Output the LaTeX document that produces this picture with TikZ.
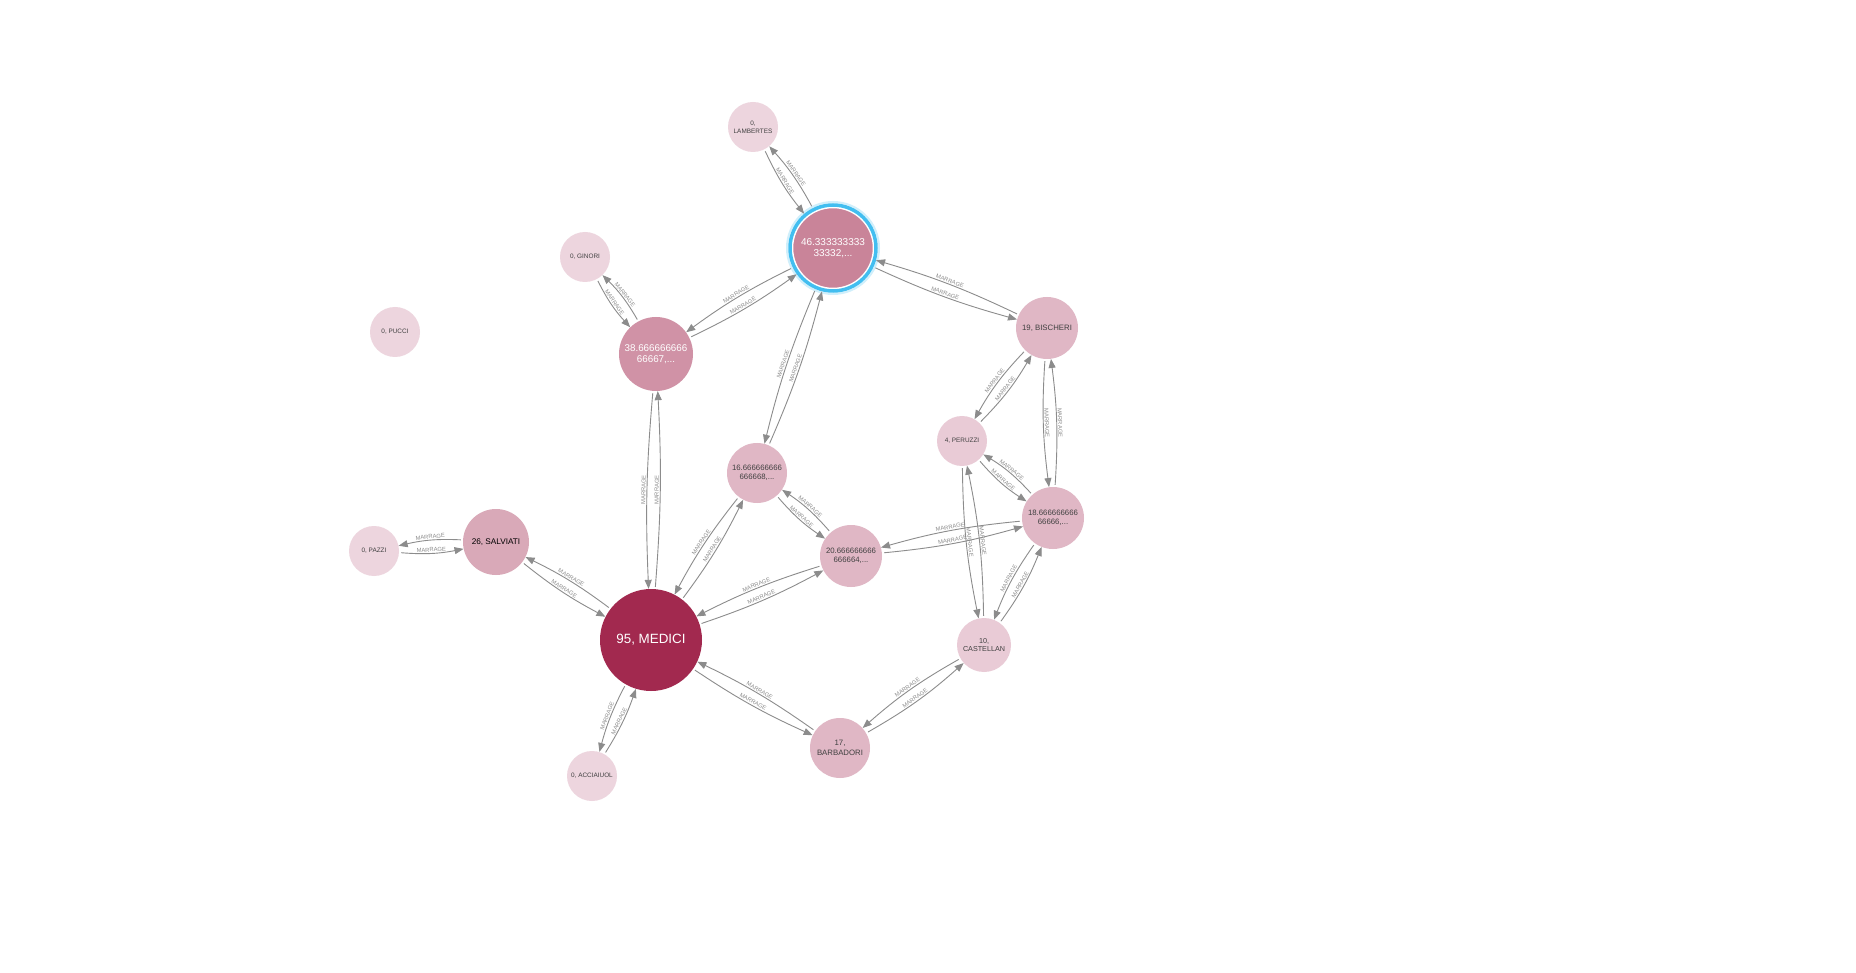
\documentclass[tikz,border=0pt]{standalone}
\usepackage{fontspec}
\setmainfont{Liberation Sans}
\usepackage{tikz}
\usetikzlibrary{arrows.meta,positioning}
\definecolor{medici}{RGB}{162,41,79}
\definecolor{guad}{RGB}{201,132,153}
\definecolor{albiz}{RGB}{208,146,166}
\definecolor{salv}{RGB}{217,169,184}
\definecolor{mid}{RGB}{224,183,197}
\definecolor{light}{RGB}{233,203,214}
\definecolor{pale}{RGB}{237,213,222}
\definecolor{ringblue}{RGB}{66,190,240}
\definecolor{edgegray}{RGB}{140,140,140}
\definecolor{ink}{RGB}{64,64,64}

\begin{document}
\begin{tikzpicture}[x=1pt,y=1pt,
            fam/.style={circle, inner sep=0pt, align=center, text=ink},
            tiny/.style={font=\fontsize{6.4}{8}\selectfont},
            small/.style={font=\fontsize{7.8}{9.3}\selectfont},
            rel/.style={draw=edgegray, line width=0.9pt, shorten <=2pt, -{Stealth[length=9pt,width=7pt,inset=0pt]}},
            lbl/.style={midway, sloped, above=0.6pt, inner sep=0.4pt, text=edgegray, font=\fontsize{5.8}{6}\selectfont}]
            \fill[white] (0,0) rectangle (1856,-973);
            \useasboundingbox (0,0) rectangle (1856,-973);

            \node[fam, tiny, fill=pale, minimum size=50] (lambertes) at (753,-127) {0,\\LAMBERTES};
            \node[fam, tiny, fill=pale, minimum size=50] (ginori) at (585,-257) {0, GINORI};
            \node[fam, tiny, fill=pale, minimum size=50] (pucci) at (395,-332) {0, PUCCI};
            \node[fam, tiny, fill=pale, minimum size=50] (pazzi) at (374,-551) {0, PAZZI};
            \node[fam, tiny, fill=pale, minimum size=50] (acciaiuol) at (592,-776) {0, ACCIAIUOL};
            \node[fam, tiny, fill=light, minimum size=50] (peruzzi) at (962,-441) {4, PERUZZI};
            \node[fam, font=\fontsize{7.2}{8.8}\selectfont, fill=light, minimum size=54] (castellan) at (984,-645) {10,\\CASTELLAN};
            \node[fam, small, fill=mid, minimum size=60] (barbadori) at (840,-748) {17,\\BARBADORI};
            \node[fam, small, fill=mid, minimum size=62] (bischeri) at (1047,-328) {19, BISCHERI};
            \node[fam, small, fill=mid, minimum size=60] (tornabuoni) at (757,-473) {16.666666666\\666668,...};
            \node[fam, small, fill=mid, minimum size=62] (ridolfi) at (851,-556) {20.666666666\\666664,...};
            \node[fam, small, fill=mid, minimum size=62] (strozzi) at (1053,-518) {18.666666666\\66666,...};
            \node[fam, font=\fontsize{8.2}{9.5}\selectfont, text=black, fill=salv, minimum size=66] (salviati) at (496,-542) {26, SALVIATI};
            \node[fam, text=white, font=\fontsize{9.8}{11}\selectfont, fill=albiz, minimum size=74] (albizzi) at (656,-354) {38.666666666\\66667,...};
            \node[fam, text=white, font=\fontsize{13.4}{15}\selectfont, fill=medici, minimum size=102] (medici) at (651,-640) {95, MEDICI};
            \node[fam, text=white, font=\fontsize{10}{11}\selectfont, fill=guad, draw=white, line width=1.5pt, minimum size=81, outer sep=4.3pt] (guadagni) at (833,-248) {46.333333333\\33332,...};
            \draw[ringblue!25, line width=2pt] (guadagni.center) circle (46);
            \draw[ringblue, line width=3.5pt] (guadagni.center) circle (43);

            % two marriages drawn for every pair, one each way
            \foreach \a/\b/\t in {guadagni/lambertes/6.6, albizzi/ginori/7.8, guadagni/albizzi/4.9,
                                  guadagni/bischeri/4.6, guadagni/tornabuoni/4.4, albizzi/medici/3.7,
                                  salviati/pazzi/7.8, medici/salviati/5.3, medici/acciaiuol/6.3,
                                  medici/tornabuoni/5, medici/ridolfi/4.7, medici/barbadori/4.7,
                                  tornabuoni/ridolfi/7.6, ridolfi/strozzi/5.1, barbadori/castellan/5.9,
                                  castellan/strozzi/6.9, castellan/peruzzi/5.3, peruzzi/bischeri/7.1,
                                  peruzzi/strozzi/8.1, bischeri/strozzi/5.5}{
                \draw[rel] (\a) to[bend right=\t] node[lbl]{MARRAGE} (\b);
                \draw[rel] (\b) to[bend right=\t] node[lbl]{MARRAGE} (\a);
            }
            \end{tikzpicture}
\end{document}
